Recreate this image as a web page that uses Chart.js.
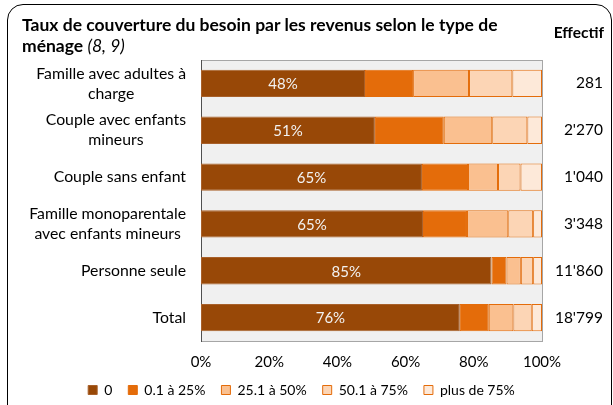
<!DOCTYPE html>
<html><head><meta charset="utf-8">
<script src="https://cdn.jsdelivr.net/npm/chart.js@4.4.1/dist/chart.umd.min.js"></script>
<style>
html,body{margin:0;padding:0;background:#fff;}
#wrap{position:relative;width:613px;height:405px;overflow:hidden;font-family:Lato, sans-serif;}
#frame{position:absolute;left:7px;top:4px;width:605px;height:430px;border:1.5px solid #000;border-radius:16px;box-sizing:border-box;pointer-events:none;}
#title{position:absolute;left:22px;top:14px;font-weight:bold;font-size:17.5px;line-height:21px;color:#000;white-space:nowrap;}
#eff{position:absolute;right:9px;top:23px;font-weight:bold;font-size:15.5px;color:#000;}
canvas{position:absolute;left:0;top:0;}
</style></head>
<body><div id="wrap"><canvas id="c" width="613" height="405"></canvas><div id="frame"></div><div id="title">Taux de couverture du besoin par les revenus selon le type de<br>ménage <span style="font-weight:normal;font-style:italic">(8, 9)</span></div><div id="eff">Effectif</div></div>
<script>
const categories = [["Famille avec adultes à","charge"],["Couple avec enfants","mineurs"],["Couple sans enfant"],["Famille monoparentale","avec enfants mineurs"],["Personne seule"],["Total"]];
const effectifs = ["281","2'270","1'040","3'348","11'860","18'799"];
const seriesNames = ["0","0.1 à 25%","25.1 à 50%","50.1 à 75%","plus de 75%"];
const s0   = [48.1, 51.0, 64.8, 65.1, 85.2, 75.9];
const s25  = [14.1, 20.2, 13.5, 12.9, 4.4, 8.5];
const s50  = [16.4, 14.2, 8.8, 12.1, 4.2, 7.2];
const s75  = [12.7, 10.3, 6.6, 7.3, 3.6, 5.4];
const s100 = [8.7, 4.3, 6.3, 2.6, 2.6, 3.0];
const xTicks = [0,20,40,60,80,100];

const fills = ["#984807","#E46C0A","#FAC090","#FCD5B5","#FDE9D9"];
const borders = ["#a8602a","#E46C0A","#E46C0A","#E46C0A","#E46C0A"];
const FONT = "Lato";

const bgPlugin = {
  id:'bg',
  afterLayout(chart){
    const l = chart.legend;
    if (l) { l.top -= 16; l.bottom -= 16; }
  },
  beforeDraw(chart){
    const {ctx, chartArea:a} = chart;
    ctx.save();
    ctx.fillStyle = '#f0f0f0';
    ctx.fillRect(a.left, a.top, a.right-a.left, a.bottom-a.top);
    ctx.strokeStyle = '#a6a6a6';
    ctx.lineWidth = 1;
    ctx.strokeRect(a.left+0.5, a.top+0.5, a.right-a.left, a.bottom-a.top);
    ctx.strokeStyle = '#505050';
    ctx.beginPath(); ctx.moveTo(a.left+0.5, a.top); ctx.lineTo(a.left+0.5, a.bottom+1); ctx.stroke();
    ctx.restore();
  },
  afterDatasetsDraw(chart){
    const ctx = chart.ctx;
    const meta = chart.getDatasetMeta(0);
    ctx.save();
    ctx.font = '15px ' + FONT;
    ctx.fillStyle = '#f2f2f2';
    ctx.textAlign = 'center';
    ctx.textBaseline = 'middle';
    meta.data.forEach((bar, i) => {
      const p = bar.getProps(['x','base','y'], true);
      ctx.fillText(Math.round(s0[i]) + '%', (p.x + p.base)/2, p.y + 1);
    });
    ctx.restore();
  },
  afterDraw(chart){
    const ctx = chart.ctx, y = chart.scales.y;
    ctx.save();
    ctx.font = '15.8px ' + FONT;
    ctx.fillStyle = '#000';
    ctx.textAlign = 'center';
    ctx.textBaseline = 'middle';
    const right = chart.chartArea.left - 15;
    categories.forEach((lines, i) => {
      const cy = y.getPixelForValue(i);
      const w = Math.max(...lines.map(l => ctx.measureText(l).width));
      const cx = right - w/2;
      lines.forEach((l, j) => ctx.fillText(l, cx, cy + (j - (lines.length-1)/2)*20));
    });
    ctx.restore();
  }
};

const allSeries = [s0, s25, s50, s75, s100];
new Chart(document.getElementById('c'), {
  type: 'bar',
  data: {
    labels: categories,
    datasets: allSeries.map((d, i) => ({
      label: seriesNames[i], data: d,
      backgroundColor: fills[i], borderColor: borders[i], borderWidth: 1,
      borderSkipped: false,
      categoryPercentage: 1, barPercentage: 0.585
    }))
  },
  options: {
    indexAxis: 'y',
    responsive: false,
    animation: false,
    devicePixelRatio: 1,
    layout: { padding: { top: 60, right: 10, left: 0, bottom: -18 } },
    scales: {
      x: {
        stacked: true, min: 0, max: 100,
        afterBuildTicks: s => { s.ticks = xTicks.map(v => ({value: v})); },
        ticks: { callback: v => v + '%', color: '#000', font: {family: FONT, size: 15}, padding: 12, maxRotation: 0 },
        grid: { display: false, drawTicks: false },
        border: { display: false }
      },
      y: {
        stacked: true,
        ticks: { display: false },
        grid: { display: false, drawTicks: false },
        border: { display: false },
        afterFit: s => { s.width = 201; }
      },
      y2: {
        type: 'category', position: 'right', labels: effectifs, offset: true,
        ticks: { color: '#000', font: {family: FONT, size: 15.5}, crossAlign: 'far', padding: 0 },
        grid: { display: false, drawTicks: false },
        border: { display: false },
        afterFit: s => { s.width = 61; }
      }
    },
    plugins: {
      legend: {
        position: 'bottom',
        labels: { boxWidth: 9, boxHeight: 9, padding: 16, color: '#000', font: {family: FONT, size: 14} }
      },
      tooltip: { enabled: false }
    }
  },
  plugins: [bgPlugin]
});
</script>
</body></html>
